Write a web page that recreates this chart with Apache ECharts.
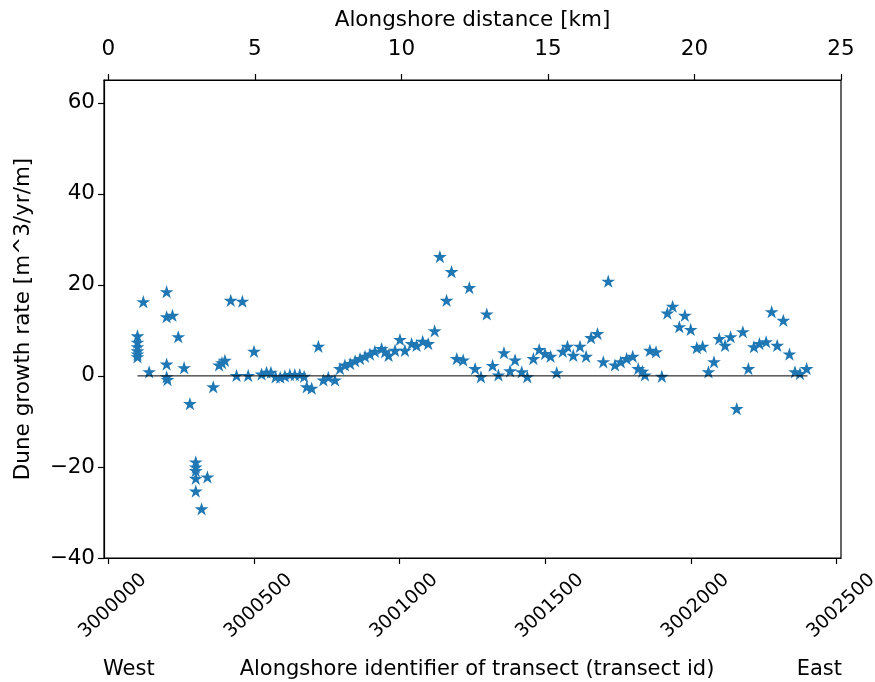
<!DOCTYPE html>
<html>
<head>
<meta charset="utf-8">
<script src="https://cdn.jsdelivr.net/npm/echarts@6/dist/echarts.min.js"></script>
<style>
  html, body { margin: 0; padding: 0; background: #fff; }
  #chart { width: 875px; height: 682px; }
</style>
</head>
<body>
<div id="chart"></div>
<script>
// Transect ids (alongshore identifier) and dune growth rate per transect [m^3/yr/m]
const transectIds = [
  3000100, 3000100, 3000100, 3000100, 3000100, 3000100, 3000120, 3000140,
  3000200, 3000200, 3000220, 3000200, 3000200, 3000203, 3000240, 3000260,
  3000280, 3000300, 3000300, 3000300, 3000300, 3000300, 3000320, 3000340,
  3000360, 3000380, 3000390, 3000400, 3000420, 3000440, 3000460, 3000480,
  3000500, 3000526, 3000543, 3000558, 3000574, 3000590, 3000606, 3000623,
  3000640, 3000657, 3000672, 3000681, 3000698, 3000721, 3000738, 3000755,
  3000778, 3000795, 3000812, 3000830, 3000847, 3000864, 3000881, 3000898,
  3000915, 3000938, 3000950, 3000962, 3000984, 3001001, 3001018, 3001041,
  3001058, 3001079, 3001098, 3001120, 3001138, 3001161, 3001178, 3001196,
  3001218, 3001239, 3001259, 3001279, 3001299, 3001319, 3001339, 3001358,
  3001379, 3001396, 3001419, 3001438, 3001459, 3001479, 3001499, 3001518,
  3001539, 3001560, 3001576, 3001596, 3001619, 3001640, 3001657, 3001679,
  3001699, 3001716, 3001739, 3001759, 3001779, 3001800, 3001819, 3001833,
  3001842, 3001859, 3001880, 3001900, 3001919, 3001937, 3001960, 3001979,
  3001999, 3002020, 3002040, 3002060, 3002079, 3002097, 3002117, 3002136,
  3002157, 3002178, 3002197, 3002216, 3002235, 3002258, 3002277, 3002296,
  3002317, 3002338, 3002357, 3002374, 3002397
];
const growthRates = [
  8.8, 7.4, 6.4, 5.5, 4.8, 4.2, 16.3, 0.9,
  18.5, 13.0, 13.3, 2.6, -0.2, -0.8, 8.6, 1.8,
  -6.1, -18.9, -20.0, -20.8, -22.5, -25.3, -29.2, -22.2,
  -2.4, 2.4, 2.9, 3.4, 16.6, 0.1, 16.4, 0.1,
  5.4, 0.4, 0.8, 0.8, -0.2, -0.3, 0.0, 0.3,
  0.3, 0.3, -0.1, -2.4, -2.7, 6.5, -0.9, -0.3,
  -0.9, 1.6, 2.4, 2.7, 3.3, 3.8, 4.3, 4.8,
  5.4, 6.0, 5.3, 4.5, 5.6, 8.0, 5.6, 7.1,
  6.7, 7.6, 7.1, 9.9, 26.2, 16.6, 22.9, 3.8,
  3.5, 19.4, 1.6, -0.2, 13.6, 2.3, 0.2, 5.1,
  1.1, 3.5, 0.9, -0.2, 3.8, 5.8, 4.9, 4.3,
  0.7, 5.4, 6.5, 4.5, 6.5, 4.3, 8.4, 9.3,
  3.1, 20.8, 2.4, 3.1, 3.8, 4.3, 1.6, 1.0,
  0.2, 5.6, 5.3, -0.1, 13.8, 15.3, 10.8, 13.3,
  10.2, 6.2, 6.5, 0.9, 3.1, 8.2, 6.7, 8.6,
  -7.2, 9.7, 1.6, 6.4, 7.1, 7.5, 14.1, 6.7,
  12.2, 4.8, 0.9, 0.5, 1.6
];

// Reference line at zero growth, spanning the first to the last transect
const zeroLineIds = [3000100, 3002400];
const zeroLineValues = [0, 0];

// Tick values
const transectTicks = [3000000, 3000500, 3001000, 3001500, 3002000, 3002500];
const distanceTicks = [0, 5, 10, 15, 20, 25];
const rateTicks = [-40, -20, 0, 20, 40, 60];

const FONT = 'DejaVu Sans';
const FS = 21.5;
const STAR = 'path://M0,-1L-0.2245,-0.309L-0.9511,-0.309L-0.3633,0.118L-0.5878,0.809L0,0.382L0.5878,0.809L0.3633,0.118L0.9511,-0.309L0.2245,-0.309Z';
const minus = v => String(v).replace('-', '\u2212');

const points = transectIds.map((id, i) => [id, growthRates[i]]);
const zeroLine = zeroLineIds.map((id, i) => [id, zeroLineValues[i]]);

const axisLineStyle = { color: '#000', width: 1.2 };
const textFont = '21px "DejaVu Sans"';

const chart = echarts.init(document.getElementById('chart'), null, { renderer: 'canvas' });
chart.setOption({
  animation: false,
  backgroundColor: '#fff',
  textStyle: { fontFamily: FONT, color: '#000' },
  grid: {
    left: 104, right: 34, top: 80, bottom: 124,
    outerBoundsMode: 'none', containLabel: false,
    show: true, borderColor: '#000', borderWidth: 1.2, backgroundColor: 'transparent'
  },
  xAxis: [
    {
      type: 'value',
      position: 'bottom',
      min: 2999985, max: 3002515,
      splitLine: { show: false },
      axisLine: { show: true, onZero: false, lineStyle: axisLineStyle },
      axisTick: { show: true, length: 6, lineStyle: axisLineStyle, customValues: transectTicks },
      axisLabel: {
        customValues: transectTicks,
        rotate: 43, align: 'center', verticalAlign: 'middle', margin: 52,
        padding: [0, 0, 0, 12],
        fontFamily: FONT, fontSize: 19, color: '#000',
        formatter: v => String(v)
      }
    },
    {
      type: 'value',
      position: 'top',
      min: -0.15, max: 25.0,
      name: 'Alongshore distance [km]',
      nameLocation: 'middle', nameGap: 49,
      nameTextStyle: { fontFamily: FONT, fontSize: FS, color: '#000' },
      splitLine: { show: false },
      axisLine: { show: true, onZero: false, lineStyle: axisLineStyle },
      axisTick: { show: true, length: 6, lineStyle: axisLineStyle, customValues: distanceTicks },
      axisLabel: {
        customValues: distanceTicks, margin: 20,
        fontFamily: FONT, fontSize: FS, color: '#000'
      }
    }
  ],
  yAxis: {
    type: 'value',
    min: -40, max: 65,
    name: 'Dune growth rate [m^3/yr/m]',
    nameLocation: 'middle', nameGap: 70, nameRotate: 90,
    nameTextStyle: { fontFamily: FONT, fontSize: FS, color: '#000' },
    splitLine: { show: false },
    axisLine: { show: true, onZero: false, lineStyle: axisLineStyle },
    axisTick: { show: true, length: 6, lineStyle: axisLineStyle, customValues: rateTicks },
    axisLabel: {
      customValues: rateTicks, margin: 9,
      fontFamily: FONT, fontSize: FS, color: '#000',
      formatter: v => minus(v)
    }
  },
  graphic: [
    { type: 'text', x: 103, y: 670, style: { text: 'West', font: textFont, fill: '#000', textAlign: 'left', textVerticalAlign: 'middle' } },
    { type: 'text', x: 477, y: 670, style: { text: 'Alongshore identifier of transect (transect id)', font: textFont, fill: '#000', textAlign: 'center', textVerticalAlign: 'middle' } },
    { type: 'text', x: 842, y: 670, style: { text: 'East', font: textFont, fill: '#000', textAlign: 'right', textVerticalAlign: 'middle' } }
  ],
  series: [
    {
      type: 'scatter',
      xAxisIndex: 0,
      data: points,
      symbol: STAR,
      symbolSize: [13.8, 13.2],
      itemStyle: { color: '#1f77b4', opacity: 1 },
      z: 2
    },
    {
      type: 'line',
      xAxisIndex: 0,
      data: zeroLine,
      showSymbol: false,
      lineStyle: { color: '#000', width: 1 },
      z: 3
    }
  ]
});
</script>
</body>
</html>
